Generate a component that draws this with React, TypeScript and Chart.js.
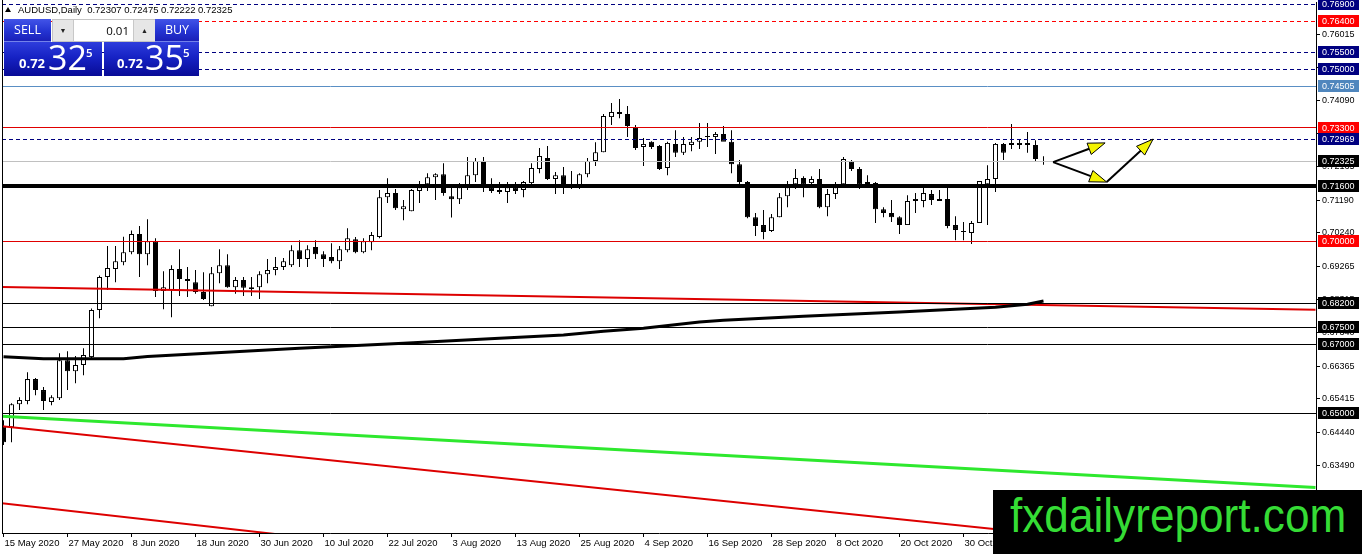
import React, { useEffect, useRef } from "react";
import { Chart, registerables } from "chart.js";

Chart.register(...registerables);

// ---- Daily candles AUDUSD, 15 May 2020 .. 13 Nov 2020 (bar index 0..130)
const OPEN = [
  0.6462, 0.6459, 0.6526, 0.6535, 0.6599, 0.6567, 0.6532, 0.6543, 0.6654, 0.6622,
  0.664, 0.6663, 0.68, 0.6896, 0.6919, 0.6939, 0.6968, 0.7021, 0.6962, 0.7,
  0.6855, 0.6858, 0.6919, 0.689, 0.6881, 0.6852, 0.6811, 0.6907, 0.693, 0.6866,
  0.6887, 0.6866, 0.6866, 0.6904, 0.6916, 0.6925, 0.693, 0.6974, 0.6948, 0.6983,
  0.6962, 0.6954, 0.6942, 0.6974, 0.7006, 0.6968, 0.6997, 0.7012, 0.7128, 0.714,
  0.7093, 0.7087, 0.7146, 0.7166, 0.7186, 0.7195, 0.7131, 0.7122, 0.7155, 0.7192,
  0.7233, 0.7157, 0.7149, 0.7143, 0.7157, 0.7149, 0.7169, 0.721, 0.7242, 0.7181,
  0.7192, 0.7163, 0.7163, 0.7195, 0.7233, 0.7259, 0.7361, 0.7376, 0.737, 0.7332,
  0.7274, 0.7289, 0.7277, 0.7213, 0.7283, 0.7257, 0.728, 0.7289, 0.7306, 0.7303,
  0.7312, 0.7289, 0.7224, 0.7172, 0.707, 0.7047, 0.703, 0.707, 0.7131, 0.7166,
  0.7184, 0.7169, 0.7181, 0.7099, 0.7137, 0.7166, 0.7233, 0.721, 0.7172, 0.7169,
  0.7093, 0.7082, 0.707, 0.7047, 0.7117, 0.7117, 0.7137, 0.7123, 0.7123, 0.7047,
  0.703, 0.7024, 0.7053, 0.7166, 0.7181, 0.7283, 0.7286, 0.728, 0.7286, 0.728,
  0.72307,
];
const HIGH = [
  0.6479, 0.6529, 0.6546, 0.6619, 0.6602, 0.6576, 0.6552, 0.6674, 0.668, 0.6666,
  0.6689, 0.6804, 0.69, 0.6986, 0.6986, 0.7013, 0.7031, 0.7044, 0.7064, 0.7009,
  0.6913, 0.693, 0.6977, 0.6925, 0.6916, 0.691, 0.6925, 0.6977, 0.6962, 0.6896,
  0.6896, 0.6896, 0.6913, 0.6948, 0.6954, 0.6951, 0.6988, 0.7003, 0.6988, 0.7003,
  0.6971, 0.6994, 0.6986, 0.7038, 0.7012, 0.7009, 0.7027, 0.7149, 0.7183, 0.7152,
  0.712, 0.7152, 0.7175, 0.7198, 0.7198, 0.7227, 0.7157, 0.7169, 0.7245, 0.7242,
  0.7245, 0.7183, 0.7172, 0.7172, 0.7172, 0.7175, 0.7227, 0.7271, 0.7277, 0.7201,
  0.7216, 0.7204, 0.7198, 0.7242, 0.7288, 0.737, 0.7402, 0.7414, 0.7393, 0.7338,
  0.73, 0.7291, 0.728, 0.7289, 0.7323, 0.7303, 0.7303, 0.7344, 0.7344, 0.7318,
  0.7335, 0.7323, 0.7236, 0.7175, 0.7082, 0.7091, 0.7079, 0.714, 0.7175, 0.721,
  0.7189, 0.7189, 0.721, 0.7152, 0.7172, 0.7245, 0.7236, 0.7216, 0.7192, 0.7172,
  0.7099, 0.712, 0.7073, 0.7134, 0.714, 0.7155, 0.7149, 0.7149, 0.7157, 0.7073,
  0.7056, 0.7059, 0.7175, 0.7221, 0.7286, 0.7286, 0.7341, 0.7297, 0.7318, 0.7294,
  0.72475,
];
const LOW = [
  0.6407, 0.6415, 0.6509, 0.6526, 0.6552, 0.6509, 0.6523, 0.6538, 0.6567, 0.6587,
  0.661, 0.666, 0.6776, 0.6858, 0.6881, 0.693, 0.6962, 0.6896, 0.693, 0.6838,
  0.6802, 0.6779, 0.6841, 0.6838, 0.6847, 0.6829, 0.6811, 0.6878, 0.6865, 0.6847,
  0.6841, 0.6841, 0.6832, 0.6878, 0.6901, 0.6916, 0.6925, 0.6925, 0.6925, 0.6948,
  0.6925, 0.6936, 0.6919, 0.6968, 0.6965, 0.6965, 0.6974, 0.7009, 0.7111, 0.7091,
  0.7061, 0.7087, 0.7111, 0.7146, 0.712, 0.7132, 0.7069, 0.7108, 0.7149, 0.7172,
  0.7143, 0.714, 0.7137, 0.7111, 0.7137, 0.7128, 0.7163, 0.7198, 0.7178, 0.7137,
  0.7137, 0.7152, 0.7152, 0.7186, 0.7219, 0.7259, 0.7338, 0.7358, 0.7303, 0.7265,
  0.7219, 0.7268, 0.7207, 0.7192, 0.7245, 0.7251, 0.7262, 0.7268, 0.7274, 0.7254,
  0.7294, 0.7198, 0.7157, 0.7067, 0.7015, 0.7006, 0.7027, 0.707, 0.7099, 0.7152,
  0.7128, 0.7157, 0.7096, 0.7073, 0.7123, 0.7166, 0.7204, 0.7152, 0.716, 0.7053,
  0.707, 0.7056, 0.7021, 0.7047, 0.7082, 0.7099, 0.7105, 0.7117, 0.7038, 0.7003,
  0.7003, 0.6992, 0.7053, 0.7047, 0.7143, 0.7236, 0.7268, 0.7268, 0.7257, 0.7233,
  0.72222,
];
const CLOSE = [
  0.6415, 0.6526, 0.6538, 0.6599, 0.6567, 0.6535, 0.6546, 0.6654, 0.6622, 0.664,
  0.6669, 0.68, 0.6896, 0.6922, 0.6942, 0.6968, 0.7021, 0.6962, 0.7, 0.6855,
  0.6866, 0.6919, 0.689, 0.6884, 0.6852, 0.6832, 0.6907, 0.693, 0.6866, 0.6887,
  0.6865, 0.6861, 0.6904, 0.6916, 0.6925, 0.6942, 0.6974, 0.6948, 0.6977, 0.6962,
  0.6948, 0.6942, 0.6977, 0.7009, 0.6968, 0.7, 0.7018, 0.7128, 0.714, 0.7096,
  0.7102, 0.7149, 0.7157, 0.7186, 0.7195, 0.714, 0.7122, 0.7157, 0.7192, 0.7233,
  0.7163, 0.7146, 0.7143, 0.7157, 0.7146, 0.7172, 0.7213, 0.7248, 0.7181, 0.7192,
  0.7163, 0.7166, 0.7195, 0.7233, 0.7259, 0.7364, 0.7376, 0.737, 0.7335, 0.7271,
  0.7283, 0.7274, 0.721, 0.7286, 0.7257, 0.7283, 0.7289, 0.73, 0.7303, 0.7312,
  0.7289, 0.7224, 0.7172, 0.707, 0.7044, 0.7027, 0.707, 0.7128, 0.7157, 0.7184,
  0.7166, 0.7181, 0.7099, 0.7137, 0.7157, 0.7239, 0.721, 0.7166, 0.7163, 0.7093,
  0.7082, 0.707, 0.7047, 0.7117, 0.7123, 0.714, 0.712, 0.7117, 0.7044, 0.7033,
  0.7027, 0.7053, 0.7175, 0.7181, 0.7283, 0.7257, 0.728, 0.7286, 0.728, 0.7239,
  0.72325,
];

// ---- axis ticks
const X_TICK_INDEX = [0, 8, 16, 24, 32, 40, 48, 56, 64, 72, 80, 88, 96, 104, 112, 120, 128];
const X_TICK_LABELS = [
  "15 May 2020", "27 May 2020", "8 Jun 2020", "18 Jun 2020", "30 Jun 2020", "10 Jul 2020",
  "22 Jul 2020", "3 Aug 2020", "13 Aug 2020", "25 Aug 2020", "4 Sep 2020", "16 Sep 2020",
  "28 Sep 2020", "8 Oct 2020", "20 Oct 2020", "30 Oct 2020", "11 Nov 2020",
];
const Y_TICKS = [
  0.76015, 0.7505, 0.7409, 0.73125, 0.72165, 0.7119, 0.7024, 0.69265, 0.68315, 0.6734,
  0.66365, 0.65415, 0.6444, 0.6349, 0.6254, 0.6159,
];

// ---- moving average (sampled bars)
const MA_INDEX = [0, 5, 15, 18, 37, 50, 62, 70, 75, 80, 87, 90, 100, 112, 124, 128, 130];
const MA_VALUES = [
  0.6664, 0.6658, 0.6658, 0.6665, 0.6689, 0.6703, 0.6718, 0.6727, 0.6738, 0.6747,
  0.6765, 0.677, 0.6782, 0.6794, 0.6808, 0.6817, 0.6826,
];

// ---- horizontal levels
const LEVEL_VALUES = [0.769, 0.764, 0.755, 0.75, 0.74505, 0.733, 0.72969, 0.72325, 0.716, 0.7, 0.682, 0.675, 0.67, 0.65];
const LEVEL_COLORS = ["#000080", "#ff0000", "#000080", "#000080", "#5a8fc4", "#e00000", "#000080", "#c0c0c0", "#000000", "#e00000", "#000000", "#000000", "#000000", "#000000"];
const LEVEL_TAG_COLORS = ["#000080", "#ff0000", "#000080", "#000080", "#4f86bd", "#ff0000", "#000080", "#000000", "#000000", "#ff0000", "#000000", "#000000", "#000000", "#000000"];
const LEVEL_WIDTHS = [1, 1, 1, 1, 1, 1, 1, 1, 4, 1, 1, 1, 1, 1];
const LEVEL_DASHED = [true, true, true, true, false, false, true, false, false, false, false, false, false, false];

// ---- trend lines (bar index, price)
const TREND_START_X = [-0.2, -0.2, -0.2, -0.2];
const TREND_START_Y = [0.6867, 0.6491, 0.6462, 0.6238];
const TREND_END_X = [164, 164, 164, 60];
const TREND_END_Y = [0.6801, 0.6284, 0.6066, 0.608];
const TREND_COLORS = ["#dd0000", "#2ee82e", "#dd0000", "#dd0000"];
const TREND_WIDTHS = [2, 3, 2, 2];

// ---- arrows (bar index, price)
const ARROW_FROM_X = [131.2, 131.2, 137.9];
const ARROW_FROM_Y = [0.723, 0.723, 0.7172];
const ARROW_TO_X = [137.7, 137.9, 143.7];
const ARROW_TO_Y = [0.7286, 0.7172, 0.7297];

const XMIN = -0.1875;
const XMAX = 164.0625;
const YMAX = 0.769582;
const YMIN = 0.615132;

const FONT = '"Liberation Sans", Arial, sans-serif';

export default function App() {
  const ref = useRef<HTMLCanvasElement>(null);

  useEffect(() => {
    document.body.style.margin = "0";
    const canvas = ref.current;
    if (!canvas) return;

    const wickData = OPEN.map((_, i) => ({ x: i, y: [LOW[i], HIGH[i]] }));
    const bodyData = OPEN.map((o, i) => ({ x: i, y: [o, CLOSE[i]] }));
    const bodyColors = OPEN.map((o, i) => (CLOSE[i] >= o ? "#ffffff" : "#000000"));

    const trendSets = TREND_START_X.map((sx, k) => ({
      type: "line" as const,
      data: [
        { x: sx, y: TREND_START_Y[k] },
        { x: TREND_END_X[k], y: TREND_END_Y[k] },
      ],
      borderColor: TREND_COLORS[k],
      borderWidth: TREND_WIDTHS[k],
      pointRadius: 0,
      fill: false,
      tension: 0,
      order: 3,
    }));

    const overlay = {
      id: "overlay",
      afterDatasetsDraw(chart: any) {
        const { ctx, chartArea: a } = chart;
        const xs = chart.scales.x;
        const ys = chart.scales.y;
        ctx.save();
        ctx.beginPath();
        ctx.rect(a.left, a.top, a.right - a.left, a.bottom - a.top);
        ctx.clip();
        LEVEL_VALUES.forEach((v, k) => {
          const py = ys.getPixelForValue(v);
          const w = LEVEL_WIDTHS[k];
          const yy = w % 2 ? Math.round(py - 0.5) + 0.5 : Math.round(py);
          ctx.lineWidth = w;
          ctx.strokeStyle = LEVEL_COLORS[k];
          ctx.setLineDash(LEVEL_DASHED[k] ? [4, 3] : []);
          ctx.beginPath();
          ctx.moveTo(a.left, yy);
          ctx.lineTo(a.right, yy);
          ctx.stroke();
        });
        ctx.setLineDash([]);
        for (let k = 0; k < ARROW_FROM_X.length; k++) {
          const x1 = xs.getPixelForValue(ARROW_FROM_X[k]);
          const y1 = ys.getPixelForValue(ARROW_FROM_Y[k]);
          const x2 = xs.getPixelForValue(ARROW_TO_X[k]);
          const y2 = ys.getPixelForValue(ARROW_TO_Y[k]);
          const dx = x2 - x1;
          const dy = y2 - y1;
          const len = Math.hypot(dx, dy);
          const ux = dx / len;
          const uy = dy / len;
          const hl = 17;
          const hw = 6;
          const bx = x2 - ux * hl;
          const by = y2 - uy * hl;
          ctx.strokeStyle = "#000";
          ctx.lineWidth = 2;
          ctx.beginPath();
          ctx.moveTo(x1, y1);
          ctx.lineTo(bx, by);
          ctx.stroke();
          ctx.beginPath();
          ctx.moveTo(x2, y2);
          ctx.lineTo(bx - uy * hw, by + ux * hw);
          ctx.lineTo(bx + uy * hw, by - ux * hw);
          ctx.closePath();
          ctx.fillStyle = "#f4f400";
          ctx.fill();
          ctx.lineWidth = 1;
          ctx.stroke();
        }
        ctx.restore();
      },
      afterDraw(chart: any) {
        const { ctx, chartArea: a } = chart;
        const ys = chart.scales.y;
        ctx.save();
        ctx.fillStyle = "#000";
        ctx.fillRect(a.left, 0, 1, a.bottom);
        ctx.font = "9px " + FONT;
        ctx.textBaseline = "middle";
        ctx.textAlign = "left";
        LEVEL_VALUES.forEach((v, k) => {
          const py = Math.round(ys.getPixelForValue(v));
          ctx.fillStyle = LEVEL_TAG_COLORS[k];
          ctx.fillRect(a.right + 2, py - 6, 41, 12);
          ctx.fillStyle = "#ffffff";
          ctx.fillText(v.toFixed(5), a.right + 6, py + 0.5);
        });
        ctx.restore();
      },
    };

    const chart = new Chart(canvas, {
      type: "bar",
      data: {
        datasets: [
          {
            type: "bar",
            data: wickData as any,
            backgroundColor: "#000000",
            borderWidth: 0,
            categoryPercentage: 1,
            barPercentage: 0.125,
            maxBarThickness: 1,
            grouped: false,
            inflateAmount: 0,
            order: 10,
          },
          {
            type: "bar",
            data: bodyData as any,
            backgroundColor: bodyColors,
            borderColor: "#000000",
            borderWidth: 1,
            borderSkipped: false,
            categoryPercentage: 1,
            barPercentage: 0.625,
            maxBarThickness: 5,
            minBarLength: 1,
            grouped: false,
            inflateAmount: 0,
            order: 9,
          },
          {
            type: "line",
            data: MA_INDEX.map((x, k) => ({ x, y: MA_VALUES[k] })) as any,
            borderColor: "#000000",
            borderWidth: 3,
            pointRadius: 0,
            fill: false,
            tension: 0,
            order: 2,
          },
          ...(trendSets as any[]),
        ],
      },
      options: {
        responsive: false,
        maintainAspectRatio: false,
        devicePixelRatio: 1,
        animation: false,
        events: [],
        layout: { padding: { left: 2, top: 2, right: 0, bottom: 0 } },
        plugins: { legend: { display: false }, tooltip: { enabled: false } },
        scales: {
          x: {
            type: "linear",
            min: XMIN,
            max: XMAX,
            offset: false,
            grid: { display: true, drawOnChartArea: false, drawTicks: true, tickLength: 4, color: "#000000", offset: false },
            border: { display: true, color: "#000000", width: 1 },
            ticks: {
              autoSkip: false,
              maxRotation: 0,
              minRotation: 0,
              align: "start",
              labelOffset: 1,
              padding: 1,
              color: "#000000",
              font: { family: FONT, size: 9.5 },
              callback: (value: any) => {
                const k = X_TICK_INDEX.indexOf(Number(value));
                return k >= 0 ? X_TICK_LABELS[k] : "";
              },
            },
            afterBuildTicks: (s: any) => {
              s.ticks = X_TICK_INDEX.map((v) => ({ value: v }));
            },
            afterFit: (s: any) => {
              s.height = 21;
              s.paddingLeft = 0;
              s.paddingRight = 0;
              s.paddingTop = 0;
              s.paddingBottom = 0;
            },
          },
          y: {
            type: "linear",
            position: "right",
            min: YMIN,
            max: YMAX,
            grid: { display: true, drawOnChartArea: false, drawTicks: true, tickLength: 4, color: "#000000" },
            border: { display: true, color: "#000000", width: 1 },
            ticks: {
              autoSkip: false,
              padding: 2,
              color: "#000000",
              font: { family: FONT, size: 9 },
              callback: (value: any) => Number(value).toFixed(5),
            },
            afterBuildTicks: (s: any) => {
              s.ticks = Y_TICKS.map((v) => ({ value: v }));
            },
            afterFit: (s: any) => {
              s.width = 46;
              s.paddingLeft = 0;
              s.paddingRight = 0;
              s.paddingTop = 0;
              s.paddingBottom = 0;
            },
          },
        },
      } as any,
      plugins: [overlay],
    });

    return () => chart.destroy();
  }, []);

  const btnBg = "linear-gradient(to bottom, #4254e8 0%, #2434d2 55%, #1a20b8 100%)";
  const priceBg = "linear-gradient(to bottom, #2e3ddc 0%, #1622c4 45%, #080b96 100%)";
  const ui = '"Open Sans", "Noto Sans", sans-serif';
  const abs = (s: any) => ({ position: "absolute" as const, ...s });

  return (
    <div style={{ position: "absolute", left: 0, top: 0, width: 1362, height: 554, background: "#fff", overflow: "hidden" }}>
      <canvas ref={ref} width={1362} height={554} style={{ position: "absolute", left: 0, top: 0, width: 1362, height: 554 }} />

      {/* header */}
      <div style={abs({ left: 5, top: 7, width: 0, height: 0, borderLeft: "3px solid transparent", borderRight: "3px solid transparent", borderBottom: "5px solid #000" })} />
      <div style={abs({ left: 18, top: 4, font: "9.5px " + FONT, lineHeight: "12px", color: "#000", whiteSpace: "pre" })}>
        {"AUDUSD,Daily  0.72307 0.72475 0.72222 0.72325"}
      </div>

      {/* one-click trading panel */}
      <div style={abs({ left: 4, top: 19, width: 47, height: 22, background: btnBg, borderBottom: "1px solid #7382ea", color: "#fff", font: "12.5px " + ui, lineHeight: "22px", textAlign: "center" })}>SELL</div>
      <div style={abs({ left: 52, top: 19, width: 101, height: 21, background: "#fff", border: "1px solid #c4c4c4" })}>
        <div style={abs({ left: 0, top: 0, width: 20, height: 21, background: "#e6e6e6", borderRight: "1px solid #c8c8c8", font: "7px " + FONT, lineHeight: "21px", textAlign: "center", color: "#222" })}>▼</div>
        <div style={abs({ left: 40, top: 0, width: 36, height: 21, font: "11.5px " + ui, lineHeight: "21px", textAlign: "right", color: "#000" })}>0.01</div>
        <div style={abs({ left: 80, top: 0, width: 21, height: 21, background: "#e6e6e6", borderLeft: "1px solid #c8c8c8", font: "7px " + FONT, lineHeight: "21px", textAlign: "center", color: "#222" })}>▲</div>
      </div>
      <div style={abs({ left: 155, top: 19, width: 44, height: 22, background: btnBg, borderBottom: "1px solid #7382ea", color: "#fff", font: "12.5px " + ui, lineHeight: "22px", textAlign: "center" })}>BUY</div>

      <div style={abs({ left: 4, top: 42, width: 98, height: 34, background: priceBg })} />
      <div style={abs({ left: 104, top: 42, width: 95, height: 34, background: priceBg })} />
      <div style={abs({ left: 19, top: 57, font: "bold 13px " + ui, lineHeight: "13px", color: "#fff" })}>0.72</div>
      <div style={abs({ left: 48, top: 40, font: "34px " + ui, lineHeight: "34px", color: "#fff" })}>32</div>
      <div style={abs({ left: 86, top: 47, font: "600 11.5px " + ui, lineHeight: "12px", color: "#fff" })}>5</div>
      <div style={abs({ left: 117, top: 57, font: "bold 13px " + ui, lineHeight: "13px", color: "#fff" })}>0.72</div>
      <div style={abs({ left: 145, top: 40, font: "34px " + ui, lineHeight: "34px", color: "#fff" })}>35</div>
      <div style={abs({ left: 183, top: 47, font: "600 11.5px " + ui, lineHeight: "12px", color: "#fff" })}>5</div>

      {/* watermark */}
      <div style={abs({ left: 993, top: 490, width: 369, height: 64, background: "#000", overflow: "hidden" })}>
        <div style={abs({ left: 17, top: 2, font: "48px " + FONT, lineHeight: "48px", color: "#35dc35", whiteSpace: "nowrap", transform: "scaleX(0.92)", transformOrigin: "0 0" })}>
          fxdailyreport.com
        </div>
      </div>
    </div>
  );
}
